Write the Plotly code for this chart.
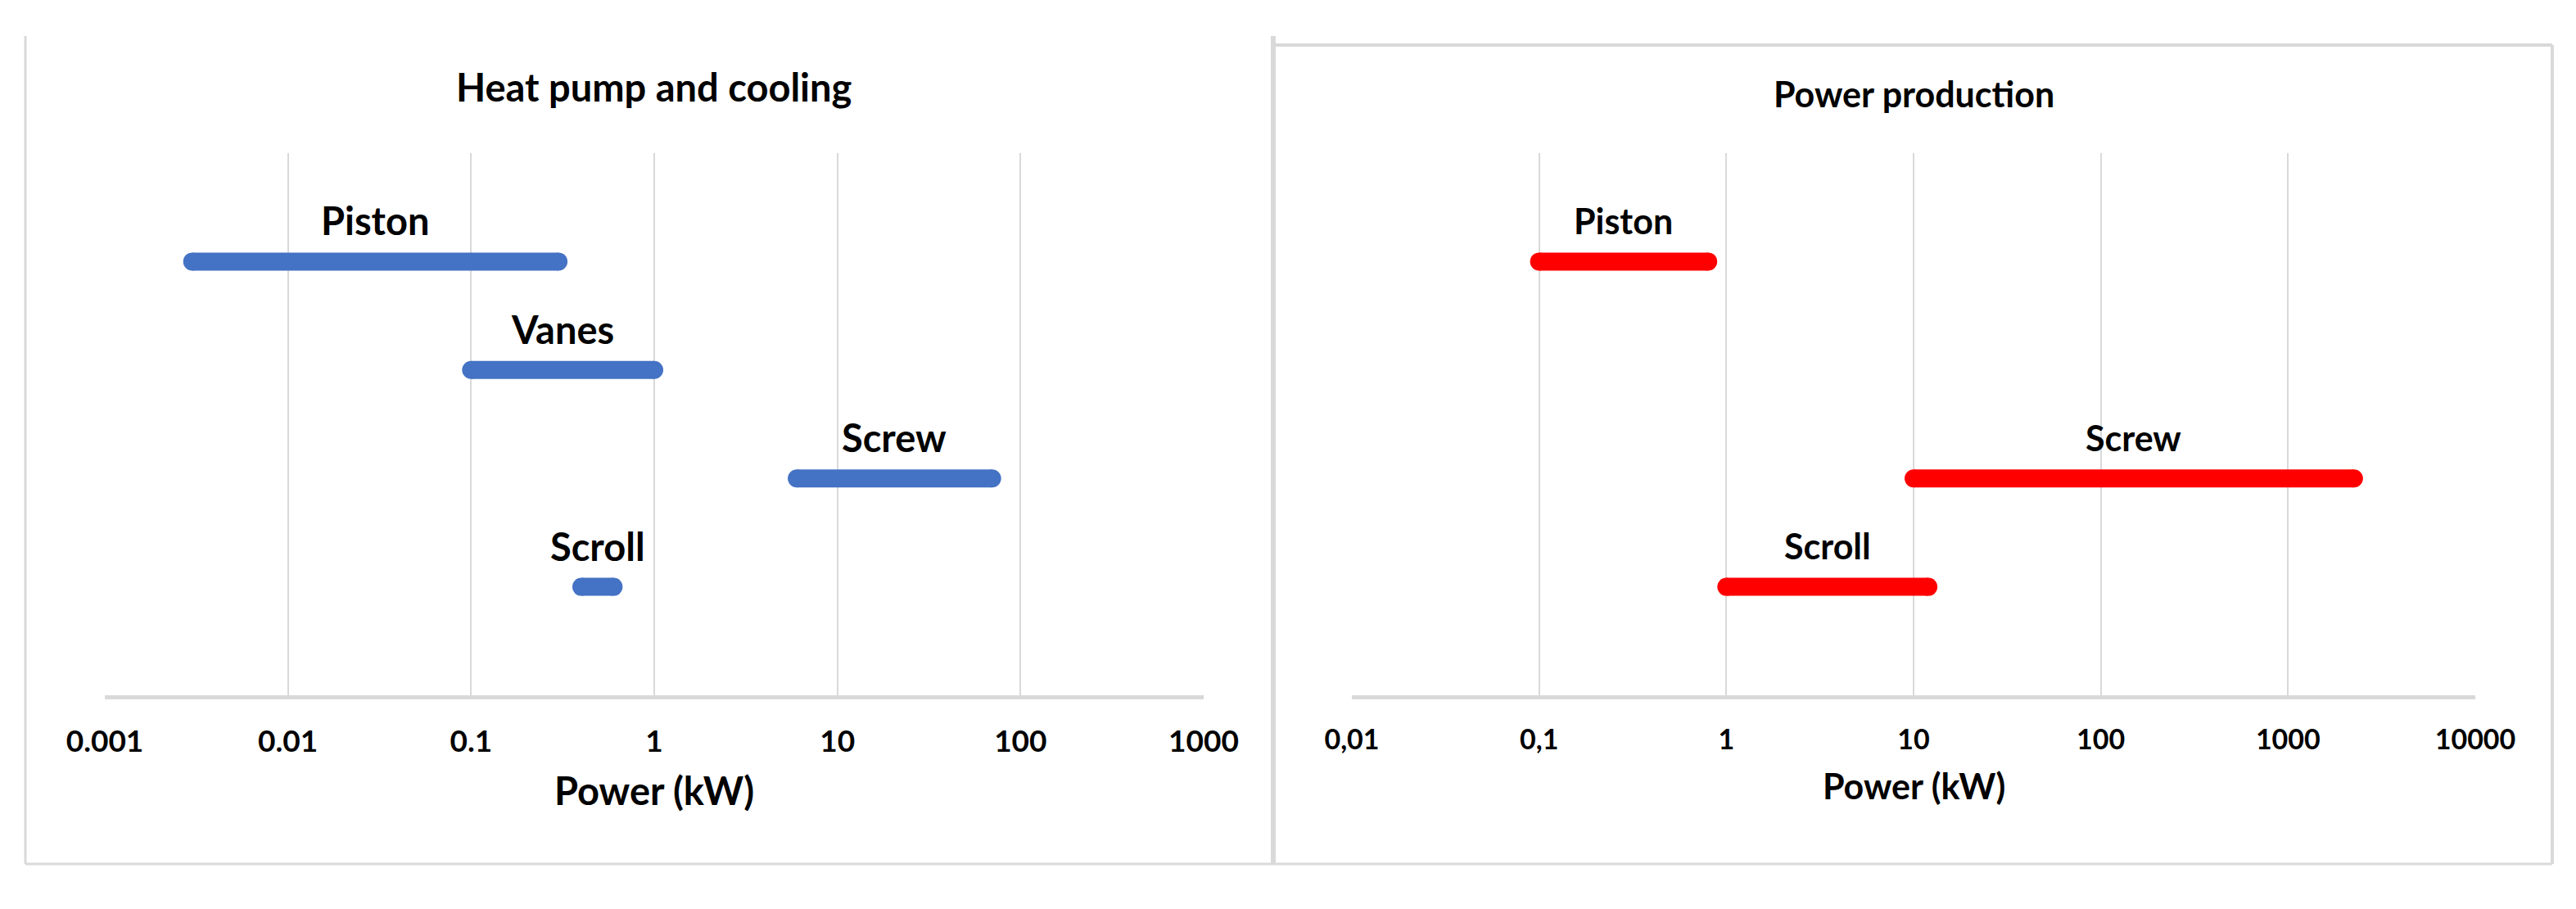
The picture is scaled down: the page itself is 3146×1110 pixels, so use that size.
"""
Operating power ranges of expander / compressor types, two panels on log axes.
"""

import math

import plotly.graph_objects as go
from plotly.subplots import make_subplots


# page body has an 8px margin, so the figure is drawn that much smaller
PAGE_PAD = 8
W, H = 3146 - PAGE_PAD, 1110 - 2 * PAGE_PAD

# categories, bottom to top
ROWS = ["Scroll", "Screw", "Vanes", "Piston"]

# heat pump and cooling (kW)
hp_devices = ["Piston", "Vanes", "Screw", "Scroll"]
hp_min_kw = [0.003, 0.1, 6, 0.4]
hp_max_kw = [0.3, 1, 70, 0.6]
hp_ticks = [0.001, 0.01, 0.1, 1, 10, 100, 1000]
hp_ticktext = ["0.001", "0.01", "0.1", "1", "10", "100", "1000"]

# power production (kW)
pp_devices = ["Piston", "Screw", "Scroll"]
pp_min_kw = [0.1, 10, 1]
pp_max_kw = [0.8, 2250, 12]
pp_ticks = [0.01, 0.1, 1, 10, 100, 1000, 10000]
pp_ticktext = ["0,01", "0,1", "1", "10", "100", "1000", "10000"]

BLUE = "#4472C4"
RED = "#FF0000"
GRID = "#D9D9D9"
FONT = "Lato"


def px(x):
    return (x - PAGE_PAD) / W


def py(y):
    return 1 - (y - PAGE_PAD) / H


def main():
    fig = make_subplots(rows=1, cols=2)

    panels = [
        (1, hp_devices, hp_min_kw, hp_max_kw, hp_ticks, hp_ticktext, BLUE, 47, 37,
         "Heat pump and cooling", (128, 1470), 106, 965),
        (2, pp_devices, pp_min_kw, pp_max_kw, pp_ticks, pp_ticktext, RED, 43, 34,
         "Power production", (1651, 3023), 114, 959),
    ]

    for col, devices, lo, hi, ticks, ticktext, color, fsize, tsize, title, (x0, x1), ty, ay in panels:
        for dev, a, b in zip(devices, lo, hi):
            fig.add_trace(
                go.Scatter(
                    x=[a, b], y=[dev, dev], mode="lines+markers",
                    line=dict(color=color, width=22),
                    marker=dict(color=color, size=22),
                    hoverinfo="skip", showlegend=False,
                ),
                row=1, col=col,
            )
            mid = (math.log10(a) + math.log10(b)) / 2
            fig.add_annotation(
                x=mid, y=dev, xref=f"x{col}", yref=f"y{col}",
                text=f"<b>{dev}</b>", showarrow=False,
                xanchor="center", yanchor="middle", yshift=50,
                font=dict(family=FONT, size=fsize, color="#000000"),
            )

        fig.update_xaxes(
            type="log",
            range=[math.log10(ticks[0]), math.log10(ticks[-1])],
            tickvals=ticks, ticktext=[f"<b>{t}</b>" for t in ticktext],
            tickfont=dict(family=FONT, size=tsize, color="#000000"),
            showgrid=True, gridcolor=GRID, gridwidth=2,
            showline=True, linecolor=GRID, linewidth=5,
            zeroline=False, ticks="", ticklabelstandoff=20,
            automargin=False,
            domain=[px(x0), px(x1)],
            row=1, col=col,
        )
        fig.update_yaxes(
            type="category", categoryarray=ROWS, categoryorder="array",
            range=[-1, 4], visible=False, showgrid=False, automargin=False,
            domain=[py(849), py(187)],
            row=1, col=col,
        )

        cx = px((x0 + x1) / 2)
        fig.add_annotation(
            x=cx, y=py(ty), xref="paper", yref="paper", text=f"<b>{title}</b>",
            showarrow=False, xanchor="center", yanchor="middle",
            font=dict(family=FONT, size=fsize, color="#000000"),
        )
        fig.add_annotation(
            x=cx, y=py(ay), xref="paper", yref="paper", text="<b>Power (kW)</b>",
            showarrow=False, xanchor="center", yanchor="middle",
            font=dict(family=FONT, size=fsize, color="#000000"),
        )

    # panel frames
    frame = [
        (31, 44, 31, 1055, 3),
        (31, 1055, 1555, 1055, 3),
        (1555, 44, 1555, 1055, 6),
        (1555, 55, 3117, 55, 4),
        (3117, 55, 3117, 1055, 4),
        (1555, 1055, 3117, 1055, 3),
    ]
    for xa, ya, xb, yb, lw in frame:
        fig.add_shape(
            type="line", xref="paper", yref="paper",
            x0=px(xa), y0=py(ya), x1=px(xb), y1=py(yb),
            line=dict(color=GRID, width=lw),
        )

    fig.update_layout(
        width=W, height=H,
        margin=dict(l=0, r=0, t=0, b=0, autoexpand=False),
        paper_bgcolor="white", plot_bgcolor="white",
        showlegend=False,
    )

    fig.write_html("out.html")


if __name__ == "__main__":
    main()
